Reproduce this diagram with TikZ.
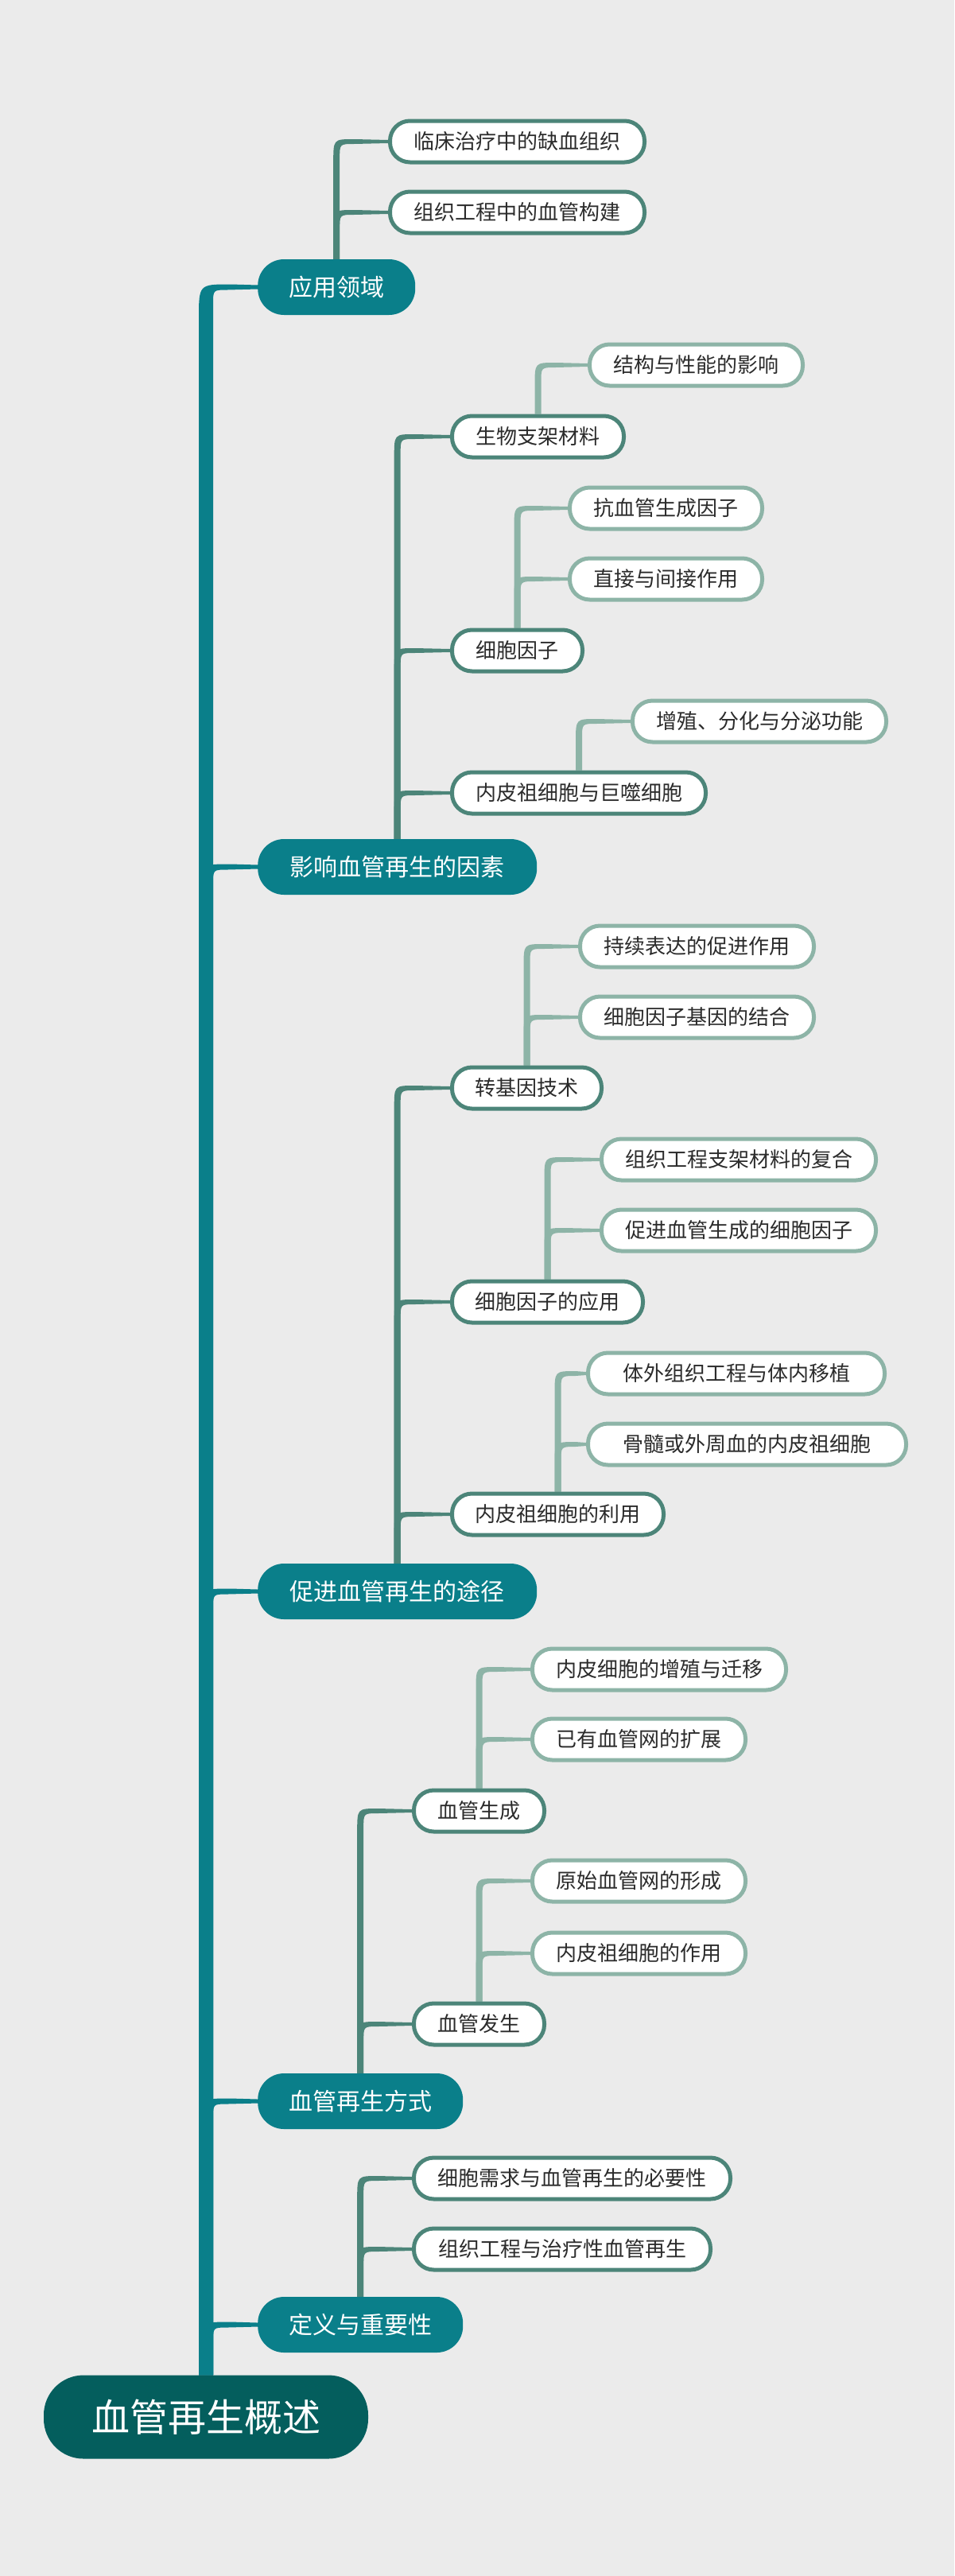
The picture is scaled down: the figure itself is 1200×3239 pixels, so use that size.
\documentclass[tikz,border=0pt]{standalone}
\usepackage{fontspec}
\newfontfamily\cjk{Noto Sans CJK SC}
\usetikzlibrary{calc}
\definecolor{bgc}{HTML}{EBEBEB}
\definecolor{rootc}{HTML}{045E5D}
\definecolor{l1c}{HTML}{0A7F8A}
\definecolor{l2c}{HTML}{4C8579}
\definecolor{l3c}{HTML}{8DB4A7}
\definecolor{txt}{HTML}{2B2B2B}
\pgfdeclarelayer{back}
\pgfdeclarelayer{bg}
\pgfsetlayers{back,bg,main}
% tapered connector: colour, parent, child, half width vertical, half width at corner, half width at end, outer radius, inner radius
\newcommand{\mmconn}[8]{%
  \fill[#1] let \p1=(#2.north), \p2=(#3.west) in
    ({\x1-#4},\y1) -- ({\x1-#4},{\y2-#7}) .. controls ({\x1-#4},{\y2+#5}) .. ({\x1-#4+#7},{\y2+#5})
    -- (\x2,{\y2+#6}) -- (\x2,{\y2-#6}) -- ({\x1+#4+#8},{\y2-#5}) .. controls ({\x1+#4},{\y2-#5}) .. ({\x1+#4},{\y2-#5-#8})
    -- ({\x1+#4},\y1) -- cycle;}
\newcommand{\trunkc}[2]{\mmconn{l1c}{#1}{#2}{9pt}{3.5pt}{2.5pt}{40pt}{18pt}}
\newcommand{\twoc}[2]{\mmconn{l2c}{#1}{#2}{4pt}{3pt}{2pt}{26pt}{18pt}}
\newcommand{\threec}[2]{\mmconn{l3c}{#1}{#2}{4pt}{3pt}{2pt}{26pt}{18pt}}
\tikzset{
  rootn/.style={fill=rootc, text=white, rounded corners=50pt, minimum height=105pt,
    minimum width=408pt, inner sep=0pt, font=\cjk\fontsize{48pt}{52pt}\selectfont},
  lone/.style={fill=l1c, text=white, rounded corners=33pt, minimum height=70pt,
    inner sep=0pt, anchor=west, font=\cjk\fontsize{30pt}{34pt}\selectfont},
  ltwo/.style={fill=white, draw=l2c, line width=5pt, rounded corners=25pt, minimum height=52pt,
    inner sep=0pt, anchor=west, text=txt, font=\cjk\fontsize{26pt}{30pt}\selectfont},
  lthree/.style={ltwo, draw=l3c},
}
\begin{document}
\begin{tikzpicture}[x=1pt,y=-1pt]
\begin{pgfonlayer}{back}
\fill[bgc] (0,0) rectangle (1200,3239);
\end{pgfonlayer}
\useasboundingbox (0,0) rectangle (1200,3239);

% root
\node[rootn] (root) at (259,3039) {血管再生概述};

% level 1
\node[lone, minimum width=198pt] (a1) at (324,361) {应用领域};
\node[lone, minimum width=351pt] (a2) at (324,1090) {影响血管再生的因素};
\node[lone, minimum width=351pt] (a3) at (324,2001) {促进血管再生的途径};
\node[lone, minimum width=258pt] (a4) at (324,2642) {血管再生方式};
\node[lone, minimum width=258pt] (a5) at (324,2923) {定义与重要性};

% level 2
\node[ltwo, minimum width=320pt] (b11) at (488,178) {临床治疗中的缺血组织};
\node[ltwo, minimum width=320pt] (b12) at (488,267) {组织工程中的血管构建};
\node[ltwo, minimum width=216pt] (b21) at (566,549) {生物支架材料};
\node[ltwo, minimum width=164pt] (b22) at (566,818) {细胞因子};
\node[ltwo, minimum width=319pt] (b23) at (566,997) {内皮祖细胞与巨噬细胞};
\node[ltwo, minimum width=188pt] (b31) at (566,1368) {转基因技术};
\node[ltwo, minimum width=240pt] (b32) at (566,1637) {细胞因子的应用};
\node[ltwo, minimum width=266pt] (b33) at (566,1904) {内皮祖细胞的利用};
\node[ltwo, minimum width=164pt] (b41) at (518,2277) {血管生成};
\node[ltwo, minimum width=164pt] (b42) at (518,2545) {血管发生};
\node[ltwo, minimum width=398pt] (b51) at (518,2739) {细胞需求与血管再生的必要性};
\node[ltwo, minimum width=373pt] (b52) at (518,2828) {组织工程与治疗性血管再生};

% level 3
\node[lthree, minimum width=268pt] (c211) at (739,459) {结构与性能的影响};
\node[lthree, minimum width=242pt] (c221) at (714,639) {抗血管生成因子};
\node[lthree, minimum width=242pt] (c222) at (714,728) {直接与间接作用};
\node[lthree, minimum width=319pt] (c231) at (793,907) {增殖、分化与分泌功能};
\node[lthree, minimum width=294pt] (c311) at (727,1190) {持续表达的促进作用};
\node[lthree, minimum width=294pt] (c312) at (727,1279) {细胞因子基因的结合};
\node[lthree, minimum width=345pt] (c321) at (754,1458) {组织工程支架材料的复合};
\node[lthree, minimum width=345pt] (c322) at (754,1547) {促进血管生成的细胞因子};
\node[lthree, minimum width=373pt] (c331) at (737,1727) {体外组织工程与体内移植};
\node[lthree, minimum width=400pt] (c332) at (737,1816) {骨髓或外周血的内皮祖细胞};
\node[lthree, minimum width=319pt] (c411) at (667,2099) {内皮细胞的增殖与迁移};
\node[lthree, minimum width=268pt] (c412) at (667,2187) {已有血管网的扩展};
\node[lthree, minimum width=268pt] (c421) at (667,2365) {原始血管网的形成};
\node[lthree, minimum width=268pt] (c422) at (667,2456) {内皮祖细胞的作用};

\begin{pgfonlayer}{bg}
\trunkc{root}{a1}
\trunkc{root}{a2}
\trunkc{root}{a3}
\trunkc{root}{a4}
\trunkc{root}{a5}
\twoc{a1}{b11}
\twoc{a1}{b12}
\twoc{a2}{b21}
\twoc{a2}{b22}
\twoc{a2}{b23}
\twoc{a3}{b31}
\twoc{a3}{b32}
\twoc{a3}{b33}
\twoc{a4}{b41}
\twoc{a4}{b42}
\twoc{a5}{b51}
\twoc{a5}{b52}
\threec{b21}{c211}
\threec{b22}{c221}
\threec{b22}{c222}
\threec{b23}{c231}
\threec{b31}{c311}
\threec{b31}{c312}
\threec{b32}{c321}
\threec{b32}{c322}
\threec{b33}{c331}
\threec{b33}{c332}
\threec{b41}{c411}
\threec{b41}{c412}
\threec{b42}{c421}
\threec{b42}{c422}
\end{pgfonlayer}
\end{tikzpicture}
\end{document}
